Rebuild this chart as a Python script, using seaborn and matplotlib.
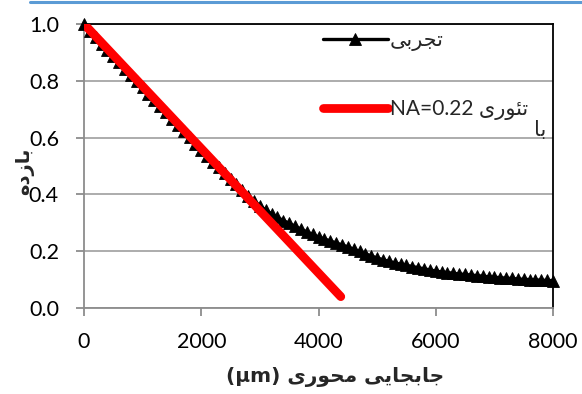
import numpy as np
import pandas as pd
import seaborn as sns
import matplotlib.pyplot as plt
from matplotlib.lines import Line2D
from matplotlib.ticker import FormatStrFormatter

sns.set_theme(style="white")
plt.rcParams['font.family'] = ['Lato', 'DejaVu Sans']

# axial displacement (um) and efficiency
exp_x = list(range(0, 8001, 100))
exp_y = [1.000, 0.975, 0.953, 0.931, 0.909, 0.887, 0.865, 0.843, 0.821, 0.799,
         0.777, 0.755, 0.733, 0.711, 0.689, 0.667, 0.645, 0.623, 0.601, 0.579,
         0.557, 0.536, 0.515, 0.495, 0.475, 0.455, 0.435, 0.415, 0.396, 0.377,
         0.360, 0.345, 0.331, 0.319, 0.308, 0.298, 0.288, 0.278, 0.268, 0.259,
         0.250, 0.243, 0.236, 0.229, 0.222, 0.215, 0.207, 0.199, 0.191, 0.183,
         0.176, 0.170, 0.164, 0.159, 0.154, 0.150, 0.146, 0.142, 0.138, 0.134,
         0.130, 0.127, 0.125, 0.122, 0.120, 0.118, 0.116, 0.114, 0.112, 0.110,
         0.108, 0.107, 0.105, 0.104, 0.102, 0.101, 0.100, 0.099, 0.098, 0.097,
         0.096]
theory_x = [0, 4380]
theory_y = [1.0, 0.04]

xticks = [0, 2000, 4000, 6000, 8000]
yticks = [0.0, 0.2, 0.4, 0.6, 0.8, 1.0]

# persian text, shaped by hand (presentation forms, visual order)
label_exp = "\uFBFD\uFE91\uFEAE\uFEA0\uFE97"
label_theory = "NA=0.22 \uFBFC\uFEAD\uFEEE\uFE8C\uFE97"
label_theory2 = "\uFE8E\uFE91"
xlabel = "(\u00b5m) \uFBFC\uFEAD\uFEEE\uFEA4\uFEE3 \uFBFD\uFBFE\uFE8E\uFEA0\uFE91\uFE8E\uFE9F"
ylabel = "\uFEE9\uFEA9\uFEAF\uFE8E\uFE91"

fig = plt.figure(figsize=(5.82, 3.94), dpi=100)
ax = fig.add_axes([84/582, 1-308/394, 469/582, 284/394])

df = pd.DataFrame({'x': exp_x, 'y': exp_y})
sns.lineplot(data=df, x='x', y='y', ax=ax, color='black', lw=2.4, marker='^',
             markersize=9, markeredgecolor='black', markeredgewidth=0.6,
             clip_on=False, zorder=3, label=label_exp)
sns.lineplot(x=theory_x, y=theory_y, ax=ax, color='#FF0000', lw=6.3,
             solid_capstyle='round', zorder=4, label=label_theory)

ax.set_xlim(0, 8000)
ax.set_ylim(0, 1.0)
ax.set_xticks(xticks)
ax.set_yticks(yticks)
ax.yaxis.set_major_formatter(FormatStrFormatter('%.1f'))

ax.set_axisbelow(True)
ax.yaxis.grid(True, color='#A6A6A6', lw=1.3)
ax.xaxis.grid(False)
for s in ['left', 'bottom']:
    ax.spines[s].set_color('#8C8C8C')
    ax.spines[s].set_linewidth(1.3)
for s in ['top', 'right']:
    ax.spines[s].set_color('black')
    ax.spines[s].set_linewidth(1.3)

ax.tick_params(axis='both', bottom=True, left=True, direction='out', length=6,
               width=1.3, color='#8C8C8C', labelsize=15.5, labelcolor='black')
ax.tick_params(axis='x', pad=11)
ax.tick_params(axis='y', pad=12)

ax.set_xlabel(xlabel, fontsize=14.5, fontweight='bold', family=['DejaVu Sans'])
ax.set_ylabel(ylabel, fontsize=14, fontweight='bold', family=['DejaVu Sans'])
ax.xaxis.set_label_coords((335-84)/469, (308-367)/284)
ax.yaxis.set_label_coords((34-84)/469, (308-171)/284)

leg = ax.legend(loc='upper left', bbox_to_anchor=((323-84)/469, (308-30)/284),
                frameon=False, handlelength=3.1, handletextpad=0.1,
                labelspacing=2.3, borderpad=0, borderaxespad=0, fontsize=15)
ax.text((546-84)/469, (308-130)/284, label_theory2, transform=ax.transAxes,
        ha='right', va='center', fontsize=15)

fig.add_artist(Line2D([30/582, 1], [1-1.5/394, 1-1.5/394], transform=fig.transFigure,
                      color='#5B9BD5', lw=2.2))

fig.savefig('out.png', dpi=100)
